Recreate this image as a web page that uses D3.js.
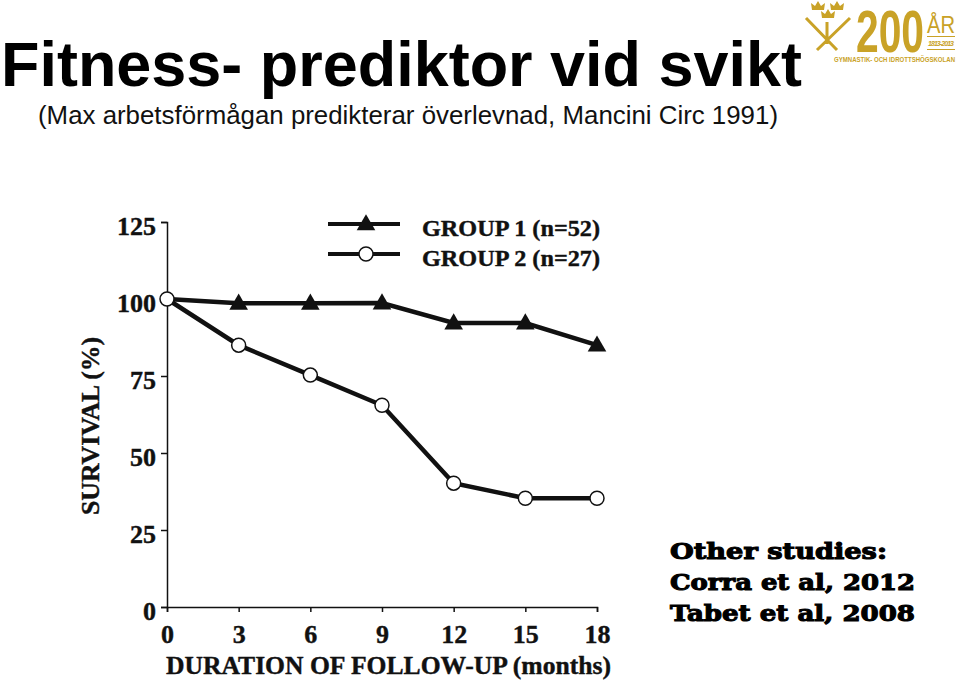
<!DOCTYPE html>
<html>
<head>
<meta charset="utf-8">
<script src="https://cdn.jsdelivr.net/npm/d3@7"></script>
<style>
html, body { margin: 0; padding: 0; background: #fff; }
svg { display: block; }
.axis text { font-family: "Liberation Serif", serif; font-weight: bold; font-size: 26px; fill: #111; stroke: #111; stroke-width: .4px; }
.axis path, .axis line { stroke: #111; stroke-width: 1.5px; }
.label { font-family: "Liberation Serif", serif; font-weight: bold; fill: #111; stroke: #111; stroke-width: .4px; }
.note { font-family: "DejaVu Serif", serif; font-weight: bold; font-size: 23px; fill: #000; stroke: #000; stroke-width: 1.1px; }
</style>
</head>
<body>
<svg id="chart" width="960" height="692"></svg>
<script>
var months = [0, 3, 6, 9, 12, 15, 18];
var yTicks = [0, 25, 50, 75, 100, 125];
var group1 = [100, 98.6, 98.6, 98.7, 92.2, 92.2, 85];
var group2 = [100, 85, 75.3, 65.5, 40.2, 35.3, 35.3];
var legendLabels = ["GROUP 1 (n=52)", "GROUP 2 (n=27)"];
var notes = ["Other studies:", "Corra et al, 2012", "Tabet et al, 2008"];

var svg = d3.select("#chart");
var ink = "#111";

// title
svg.append("text")
  .attr("x", 1).attr("y", 86)
  .attr("font-family", "Liberation Sans").attr("font-weight", "bold")
  .attr("font-size", 62.5).attr("fill", "#000")
  .attr("textLength", 801).attr("lengthAdjust", "spacingAndGlyphs")
  .text("Fitness- prediktor vid svikt");
svg.append("text")
  .attr("x", 38).attr("y", 124)
  .attr("font-family", "Liberation Sans").attr("font-size", 25.9).attr("fill", "#111")
  .attr("textLength", 740).attr("lengthAdjust", "spacingAndGlyphs")
  .text("(Max arbetsförmågan predikterar överlevnad, Mancini Circ 1991)");

// scales
var x = d3.scaleLinear().domain([0, 18]).range([167, 597]);
var y = d3.scaleLinear().domain([0, 125]).range([607, 222]);

var xAxis = svg.append("g").attr("class", "axis")
  .attr("transform", "translate(0," + y(0) + ")")
  .call(d3.axisBottom(x).tickValues(months).tickSize(5).tickPadding(10).tickSizeOuter(5));
xAxis.selectAll("text").attr("dy", "0.8em");

var yAxis = svg.append("g").attr("class", "axis")
  .attr("transform", "translate(" + x(0) + ",0)")
  .call(d3.axisLeft(y).tickValues(yTicks).tickSize(6).tickPadding(5).tickSizeOuter(6));
yAxis.selectAll("text").attr("dy", "0.48em");

// axis titles
svg.append("text").attr("class", "label")
  .attr("x", 166).attr("y", 674)
  .attr("font-size", 25).attr("textLength", 445).attr("lengthAdjust", "spacingAndGlyphs")
  .text("DURATION OF FOLLOW-UP (months)");
svg.append("text").attr("class", "label")
  .attr("transform", "translate(99,515) rotate(-90)")
  .attr("font-size", 25).attr("textLength", 178).attr("lengthAdjust", "spacingAndGlyphs")
  .text("SURVIVAL (%)");

// lines
var line = d3.line()
  .x(function(d, i) { return x(months[i]); })
  .y(function(d) { return y(d); });

svg.append("path").datum(group1)
  .attr("d", line).attr("fill", "none").attr("stroke", ink).attr("stroke-width", 4.5);
svg.append("path").datum(group2)
  .attr("d", line).attr("fill", "none").attr("stroke", ink).attr("stroke-width", 4.5);

var triangle = d3.symbol().type(d3.symbolTriangle).size(150);

svg.selectAll(".tri").data(group1.slice(1)).enter()
  .append("path").attr("class", "tri")
  .attr("d", triangle).attr("fill", ink)
  .attr("transform", function(d, i) {
    return "translate(" + x(months[i + 1]) + "," + (y(d) + 1) + ")";
  });

svg.selectAll(".dot").data(group2).enter()
  .append("circle").attr("class", "dot")
  .attr("cx", function(d, i) { return x(months[i]); })
  .attr("cy", function(d) { return y(d); })
  .attr("r", 7)
  .attr("fill", "#fff").attr("stroke", ink).attr("stroke-width", 1.5);

// legend
var legend = svg.selectAll(".leg").data(legendLabels).enter()
  .append("g").attr("class", "leg")
  .attr("transform", function(d, i) { return "translate(328," + (224 + i * 30) + ")"; });
legend.append("line")
  .attr("x1", 0).attr("x2", 72).attr("y1", 0).attr("y2", 0)
  .attr("stroke", ink).attr("stroke-width", 4);
legend.filter(function(d, i) { return i == 0; }).append("path")
  .attr("d", triangle).attr("fill", ink).attr("transform", "translate(38,1)");
legend.filter(function(d, i) { return i == 1; }).append("circle")
  .attr("cx", 38).attr("r", 7).attr("fill", "#fff").attr("stroke", ink).attr("stroke-width", 1.5);
legend.append("text").attr("class", "label")
  .attr("x", 94).attr("y", 12).attr("font-size", 24)
  .attr("textLength", 178).attr("lengthAdjust", "spacingAndGlyphs")
  .text(function(d) { return d; });

// side note
svg.selectAll(".note").data(notes).enter()
  .append("text").attr("class", "note")
  .attr("x", 670)
  .attr("y", function(d, i) { return 559 + i * 31; })
  .attr("textLength", function(d, i) { return [217, 245, 245][i]; })
  .attr("lengthAdjust", "spacingAndGlyphs")
  .text(function(d) { return d; });

// logo, top right
var gold = "#c9a227";
var logo = svg.append("g").attr("fill", gold).attr("font-family", "Liberation Sans");
logo.append("text").attr("x", 856).attr("y", 52).attr("font-size", 60).attr("font-weight", "bold")
  .attr("textLength", 68).attr("lengthAdjust", "spacingAndGlyphs").text("200");
logo.append("text").attr("x", 927).attr("y", 33).attr("font-size", 24)
  .attr("textLength", 28).attr("lengthAdjust", "spacingAndGlyphs").text("ÅR");
logo.append("text").attr("x", 928).attr("y", 46).attr("font-size", 7).attr("font-weight", "bold")
  .attr("font-style", "italic").attr("textLength", 26).text("1813-2013");
logo.append("rect").attr("x", 927).attr("y", 36).attr("width", 28).attr("height", 1);
logo.append("rect").attr("x", 927).attr("y", 49).attr("width", 28).attr("height", 1);
logo.append("text").attr("x", 834).attr("y", 62).attr("font-size", 8).attr("font-weight", "bold")
  .attr("textLength", 121).attr("lengthAdjust", "spacingAndGlyphs").text("GYMNASTIK- OCH IDROTTSHÖGSKOLAN");
var crown = "M-6,4 L-7,-3 L-3,0 L0,-5 L3,0 L7,-3 L6,4 Z";
logo.append("path").attr("d", crown).attr("transform", "translate(818,6)");
logo.append("path").attr("d", crown).attr("transform", "translate(837,6)");
logo.append("path").attr("d", crown).attr("transform", "translate(828,14)");
logo.append("path").attr("d", "M806,18 L837,50 M850,18 L817,50 M827,22 L827,44")
  .attr("stroke", gold).attr("stroke-width", 3).attr("fill", "none");
</script>
</body>
</html>
